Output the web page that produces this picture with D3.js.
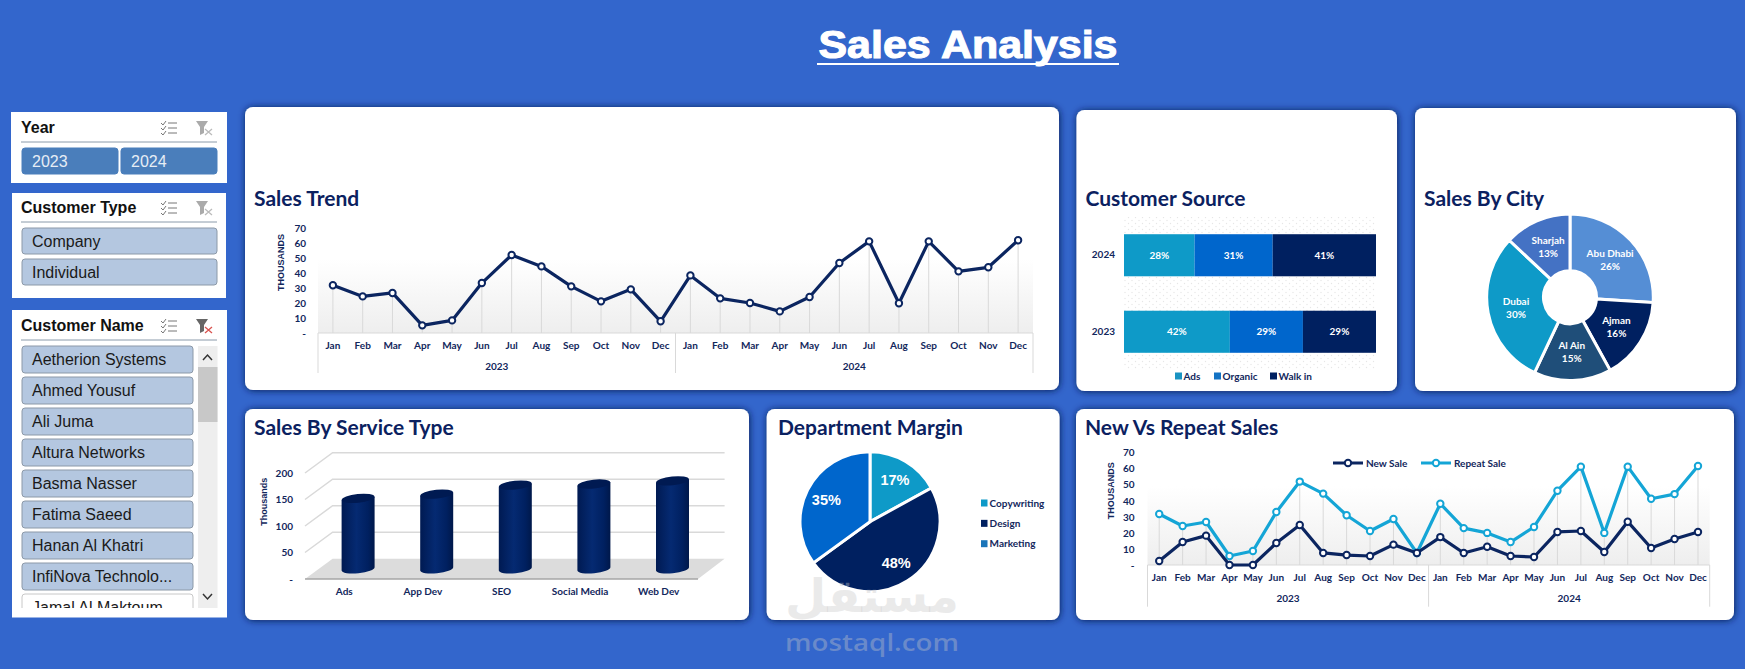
<!DOCTYPE html>
<html>
<head>
<meta charset="utf-8">
<script src="https://cdn.jsdelivr.net/npm/d3@7"></script>
<style>
  html, body { margin: 0; padding: 0; background: #3366cc; overflow: hidden; }
  svg { display: block; }
  text { font-family: Lato, sans-serif; }
  .slicer text { font-family: "Liberation Sans", Arial, sans-serif; }
  .axis path, .axis line { display: none; }
  .axis text { font-family: Lato, sans-serif; font-weight: 700; font-size: 10px; fill: #12275c; }
  .card-title { font-weight: 700; font-size: 21px; fill: #0b2160; }
  .unit-label { font-family: "Liberation Sans", Arial, sans-serif; font-weight: 700; font-size: 9px; fill: #12275c; }
  .legend-text { font-weight: 700; font-size: 10px; fill: #12275c; }
</style>
</head>
<body>
<svg id="dash" width="1745" height="669"></svg>
<script>
// Data
const years = ['2023', '2024'];
const months = ['Jan', 'Feb', 'Mar', 'Apr', 'May', 'Jun', 'Jul', 'Aug', 'Sep', 'Oct', 'Nov', 'Dec'];
const totalSales = [31.8, 24.4, 26.7, 5.1, 8.4, 33.3, 52, 44.4, 31.1, 21.1, 29.1, 7.8,
                    38.4, 23.1, 20, 14.4, 24, 46.7, 61.1, 19.8, 61.1, 41.1, 43.8, 61.8];
const newSales = [2.5, 14.3, 18.3, 0, 0, 13.7, 24.9, 7.5, 6.2, 5.6, 12.7, 7.5,
                  17.4, 7.5, 11.4, 5.6, 5, 20.6, 21.2, 8.1, 27, 10.6, 16.2, 20.6];
const repeatSales = [31.8, 24.3, 26.8, 5.6, 8.7, 33, 52, 44.5, 31, 21.2, 28.7, 7.5,
                     38.2, 23, 20, 14.3, 23.7, 46.3, 61.3, 20, 61.3, 41.3, 44.2, 61.7];
const trendTicks = [0, 10, 20, 30, 40, 50, 60, 70];

const sourceYears = ['2024', '2023'];
const sourceNames = ['Ads', 'Organic', 'Walk in'];
const sourceColors = ['#0e9ac8', '#0066cc', '#002060'];
const source2024 = [28, 31, 41];
const source2023 = [42, 29, 29];

const cityNames = ['Abu Dhabi', 'Ajman', 'Al Ain', 'Dubai', 'Sharjah'];
const cityShares = [26, 16, 15, 30, 13];
const cityColors = ['#558ed5', '#002060', '#1f4e79', '#0e9ac8', '#4472c4'];

const serviceNames = ['Ads', 'App Dev', 'SEO', 'Social Media', 'Web Dev'];
const serviceSales = [133, 141, 158, 160, 166];
const serviceTicks = [0, 50, 100, 150, 200];

const deptNames = ['Copywriting', 'Design', 'Marketing'];
const deptShares = [17, 48, 35];
const deptColors = ['#0e9ac8', '#002060', '#0066cc'];
const deptLegendColors = ['#0e9ac8', '#002060', '#1a75b8'];

const customerTypes = ['Company', 'Individual'];
const customerNames = ['Aetherion Systems', 'Ahmed Yousuf', 'Ali Juma', 'Altura Networks', 'Basma Nasser',
                       'Fatima Saeed', 'Hanan Al Khatri', 'InfiNova Technolo...', 'Jamal Al Maktoum'];

const NAVY = '#0b2560';
const CYAN = '#14a5d6';

const svg = d3.select('#dash');
const defs = svg.append('defs');

// card shadow
const shadow = defs.append('filter').attr('id', 'cardShadow')
  .attr('x', '-5%').attr('y', '-5%').attr('width', '110%').attr('height', '110%');
shadow.append('feDropShadow').attr('dx', 0.5).attr('dy', 0.5).attr('stdDeviation', 3.5)
  .attr('flood-color', '#0c1f52').attr('flood-opacity', 1);

// grey fade behind the line charts
const fade = defs.append('linearGradient').attr('id', 'plotFade')
  .attr('x1', 0).attr('y1', 0).attr('x2', 0).attr('y2', 1);
fade.append('stop').attr('offset', '30%').attr('stop-color', '#ffffff');
fade.append('stop').attr('offset', '100%').attr('stop-color', '#eeeeee');

// cylinder shading
const cyl = defs.append('linearGradient').attr('id', 'cylFill');
cyl.append('stop').attr('offset', '0%').attr('stop-color', '#001a52');
cyl.append('stop').attr('offset', '45%').attr('stop-color', '#052a72');
cyl.append('stop').attr('offset', '80%').attr('stop-color', '#002060');
cyl.append('stop').attr('offset', '100%').attr('stop-color', '#00184a');

// dotted plot background of the stacked bars
const dots = defs.append('pattern').attr('id', 'dotFill').attr('patternUnits', 'userSpaceOnUse')
  .attr('width', 7).attr('height', 6);
dots.append('circle').attr('cx', 1.5).attr('cy', 1.5).attr('r', 0.7).attr('fill', '#e6e6e6');
dots.append('circle').attr('cx', 5).attr('cy', 4.5).attr('r', 0.7).attr('fill', '#e6e6e6');

// Page title
svg.append('text').attr('x', 968).attr('y', 58).attr('text-anchor', 'middle')
  .style('font-family', '"Liberation Sans", Arial, sans-serif').style('font-weight', 700).style('font-size', '39px')
  .attr('fill', '#fff').attr('stroke', '#fff').attr('stroke-width', 1.1)
  .attr('textLength', 299).attr('lengthAdjust', 'spacingAndGlyphs')
  .text('Sales Analysis');
svg.append('rect').attr('x', 817).attr('y', 63).attr('width', 302).attr('height', 2).attr('fill', '#fff');

// Cards
function card(x0, y0, x1, y1, title, titleY) {
  const g = svg.append('g');
  g.append('rect').attr('x', x0).attr('y', y0).attr('width', x1 - x0).attr('height', y1 - y0)
    .attr('rx', 8).attr('fill', '#fff').attr('filter', 'url(#cardShadow)');
  g.append('text').attr('class', 'card-title').attr('x', x0 + 9).attr('y', titleY).text(title);
  return g;
}

// Shared line chart with the two level month / year axis
function lineChart(g, box, series, unitX, tickRight) {
  const keys = [];
  years.forEach(y => months.forEach(m => keys.push(y + '|' + m)));
  const x = d3.scaleBand().domain(keys).range([box.left, box.right]);
  const y = d3.scaleLinear().domain([0, 70]).range([box.bottom, box.top]);

  g.append('rect').attr('x', box.left).attr('y', box.top).attr('width', box.right - box.left)
    .attr('height', box.bottom - box.top).attr('fill', 'url(#plotFade)');

  // drop lines from the highest series
  const tallest = keys.map((k, i) => d3.max(series, s => s.values[i]));
  g.append('g').selectAll('line').data(keys).enter().append('line')
    .attr('x1', k => x(k) + x.bandwidth() / 2).attr('x2', k => x(k) + x.bandwidth() / 2)
    .attr('y1', (k, i) => y(tallest[i])).attr('y2', box.bottom)
    .attr('stroke', '#d9d9d9').attr('stroke-width', 1);

  // axis frame
  g.append('line').attr('x1', box.left).attr('x2', box.right).attr('y1', box.bottom).attr('y2', box.bottom)
    .attr('stroke', '#d9d9d9').attr('stroke-width', 1);
  const yearX = d3.scaleBand().domain(years).range([box.left, box.right]);
  const splits = [box.left, yearX(years[1]), box.right];
  g.append('g').selectAll('line').data(splits).enter().append('line')
    .attr('x1', d => d).attr('x2', d => d).attr('y1', box.bottom).attr('y2', box.axisEnd)
    .attr('stroke', '#d9d9d9').attr('stroke-width', 1);

  g.append('g').attr('class', 'axis').attr('transform', `translate(0,${box.bottom + 14 - 1})`)
    .call(d3.axisBottom(x).tickSize(0).tickPadding(0).tickFormat(k => k.split('|')[1]))
    .selectAll('text').attr('dy', '.32em').attr('y', 0);
  g.append('g').attr('class', 'axis').attr('transform', `translate(0,${box.bottom + box.yearGap})`)
    .call(d3.axisBottom(yearX).tickSize(0).tickPadding(0))
    .selectAll('text').attr('dy', '.32em').attr('y', 0);
  g.append('g').attr('class', 'axis').attr('transform', `translate(${tickRight},0)`)
    .call(d3.axisLeft(y).tickValues(trendTicks).tickSize(0).tickPadding(0)
      .tickFormat(d => d === 0 ? '-' : d));

  const line = d3.line().x((d, i) => x(keys[i]) + x.bandwidth() / 2).y(d => y(d));
  series.forEach(s => {
    g.append('path').datum(s.values).attr('d', line).attr('fill', 'none')
      .attr('stroke', s.color).attr('stroke-width', 3.2).attr('stroke-linejoin', 'round');
    g.append('g').selectAll('circle').data(s.values).enter().append('circle')
      .attr('cx', (d, i) => x(keys[i]) + x.bandwidth() / 2).attr('cy', d => y(d))
      .attr('r', 3.2).attr('fill', '#fff').attr('stroke', s.color).attr('stroke-width', 2);
  });

  g.append('text').attr('class', 'unit-label').attr('text-anchor', 'middle')
    .attr('transform', `translate(${unitX},${(box.top + box.bottom) / 2 - 18}) rotate(-90)`)
    .text('THOUSANDS');
}

// Sales Trend
const trendCard = card(245, 107, 1059, 390, 'Sales Trend', 205.5);
lineChart(trendCard, { left: 318, right: 1033, top: 228, bottom: 333, axisEnd: 373, yearGap: 34 },
  [{ values: totalSales, color: NAVY }], 284, 306);

// Customer Source
const sourceCard = card(1076.5, 110, 1397, 391, 'Customer Source', 205.5);
const sourceX = d3.scaleLinear().domain([0, 100]).range([1124, 1376]);
const sourceY = d3.scaleBand().domain(sourceYears).range([217, 370]).paddingInner(0.45).paddingOuter(0.225);
sourceCard.append('rect').attr('x', sourceX(0)).attr('y', 217).attr('width', sourceX(100) - sourceX(0))
  .attr('height', 153).attr('fill', 'url(#dotFill)');
[source2024, source2023].forEach((row, r) => {
  let sum = 0;
  row.forEach((v, i) => {
    const start = sum;
    sum += v;
    sourceCard.append('rect').attr('x', sourceX(start)).attr('y', sourceY(sourceYears[r]))
      .attr('width', sourceX(sum) - sourceX(start)).attr('height', sourceY.bandwidth())
      .attr('fill', sourceColors[i]);
    sourceCard.append('text').attr('x', sourceX(start + v / 2)).attr('y', sourceY(sourceYears[r]) + sourceY.bandwidth() / 2)
      .attr('dy', '.35em').attr('text-anchor', 'middle').attr('fill', '#fff')
      .style('font-weight', 700).style('font-size', '10px').text(v + '%');
  });
});
sourceCard.append('g').attr('class', 'axis').attr('transform', 'translate(1115,0)')
  .call(d3.axisLeft(sourceY).tickSize(0).tickPadding(0));
const sourceLegendX = [1175, 1214, 1270];
sourceNames.forEach((name, i) => {
  sourceCard.append('rect').attr('x', sourceLegendX[i]).attr('y', 372.5).attr('width', 7).attr('height', 7)
    .attr('fill', i === 0 ? '#1a93c2' : i === 1 ? '#1373c4' : sourceColors[i]);
  sourceCard.append('text').attr('class', 'legend-text').attr('x', sourceLegendX[i] + 8.5).attr('y', 376).attr('dy', '.35em').text(name);
});

// Pie helper, slices start at twelve o'clock and run clockwise
function pieChart(g, cx, cy, inner, outer, labelRadius, shares, colors) {
  const arcs = d3.pie().sort(null)(shares);
  const arc = d3.arc().innerRadius(inner).outerRadius(outer);
  const labelArc = d3.arc().innerRadius(labelRadius).outerRadius(labelRadius);
  const layer = g.append('g').attr('transform', `translate(${cx},${cy})`);
  layer.selectAll('path').data(arcs).enter().append('path')
    .attr('d', arc).attr('fill', (d, i) => colors[i]).attr('stroke', '#fff').attr('stroke-width', 3);
  return { layer, arcs, labelArc };
}

// Sales By City
const cityCard = card(1415, 108, 1736, 391, 'Sales By City', 205.5);
const city = pieChart(cityCard, 1570, 297.3, 26.5, 83.3, 55, cityShares, cityColors);
city.arcs.forEach((d, i) => {
  const c = city.labelArc.centroid(d);
  const t = city.layer.append('text').attr('text-anchor', 'middle').attr('fill', '#fff')
    .style('font-weight', 700).style('font-size', '10px');
  t.append('tspan').attr('x', c[0]).attr('y', c[1] - 3).text(cityNames[i]);
  t.append('tspan').attr('x', c[0]).attr('y', c[1] + 10).text(cityShares[i] + '%');
});

// Sales By Service Type, a fake 3D cylinder chart
const serviceCard = card(245, 409, 749, 620, 'Sales By Service Type', 435);
const frontLeft = 305, frontRight = 698, depthX = 27.6, depthY = 20.3;
const serviceX = d3.scaleBand().domain(serviceNames).range([frontLeft, frontRight]);
const serviceY = d3.scaleLinear().domain([0, 200]).range([579, 473]);
serviceCard.append('path')
  .attr('d', `M${frontLeft},${serviceY(0)}L${frontRight},${serviceY(0)}L${frontRight + depthX - 1},${serviceY(0) - depthY}L${frontLeft + depthX},${serviceY(0) - depthY}Z`)
  .attr('fill', '#dcdcdc');
serviceCard.append('line').attr('x1', frontLeft).attr('x2', frontRight).attr('y1', serviceY(0)).attr('y2', serviceY(0))
  .attr('stroke', '#a6a6a6').attr('stroke-width', 1.5);
serviceCard.append('g').selectAll('path').data(serviceTicks.slice(1)).enter().append('path')
  .attr('d', d => `M${frontLeft},${serviceY(d)}L${frontLeft + depthX},${serviceY(d) - depthY}L${frontRight + depthX - 1},${serviceY(d) - depthY}`)
  .attr('fill', 'none').attr('stroke', '#d9d9d9').attr('stroke-width', 1.5);
serviceCard.append('g').attr('class', 'axis').attr('transform', 'translate(293,0)')
  .call(d3.axisLeft(serviceY).tickValues(serviceTicks).tickSize(0).tickPadding(0).tickFormat(d => d === 0 ? '-' : d));
serviceCard.append('g').attr('class', 'axis').attr('transform', 'translate(0,591.7)')
  .call(d3.axisBottom(serviceX).tickSize(0).tickPadding(0))
  .selectAll('text').attr('dy', '.32em').attr('y', 0);
serviceCard.append('text').attr('class', 'unit-label').attr('text-anchor', 'middle')
  .attr('transform', 'translate(267,501.7) rotate(-90)').text('Thousands');

const cylRx = 16.5, cylRy = 4.4, cylTilt = 1.7;
serviceNames.forEach((name, i) => {
  const cx = serviceX(name) + serviceX.bandwidth() / 2 + depthX / 2;
  const yb = serviceY(0) - depthY / 2;
  const yt = yb - (serviceY(0) - serviceY(serviceSales[i]));
  serviceCard.append('path')
    .attr('d', `M${cx - cylRx},${yb + cylTilt}L${cx - cylRx},${yt + cylTilt}L${cx + cylRx},${yt - cylTilt}L${cx + cylRx},${yb - cylTilt}A${cylRx},${cylRy} -6 0 1 ${cx - cylRx},${yb + cylTilt}Z`)
    .attr('fill', 'url(#cylFill)');
  serviceCard.append('ellipse').attr('cx', cx).attr('cy', yt).attr('rx', cylRx).attr('ry', cylRy)
    .attr('transform', `rotate(-6 ${cx} ${yt})`).attr('fill', '#001a52');
});

// Department Margin
const deptCard = card(766.7, 409, 1059.5, 620, 'Department Margin', 435);
deptCard.select('.card-title').attr('x', 778);
const dept = pieChart(deptCard, 870, 521.7, 0, 70, 49, deptShares, deptColors);
dept.arcs.forEach((d, i) => {
  const c = dept.labelArc.centroid(d);
  dept.layer.append('text').attr('x', c[0]).attr('y', c[1]).attr('dy', '.35em').attr('text-anchor', 'middle')
    .attr('fill', '#fff').style('font-family', '"Liberation Sans", Arial, sans-serif')
    .style('font-weight', 700).style('font-size', '14.5px').text(deptShares[i] + '%');
});
const deptLegendY = d3.scalePoint().domain(deptNames).range([503, 543.7]);
deptNames.forEach((name, i) => {
  deptCard.append('rect').attr('x', 981).attr('y', deptLegendY(name) - 3.5).attr('width', 6.5).attr('height', 7)
    .attr('fill', deptLegendColors[i]);
  deptCard.append('text').attr('class', 'legend-text').attr('x', 989.6).attr('y', deptLegendY(name)).attr('dy', '.35em').text(name);
});

// New Vs Repeat Sales
const mixCard = card(1076, 409, 1734, 620, 'New Vs Repeat Sales', 435);
lineChart(mixCard, { left: 1147.5, right: 1709.7, top: 452.7, bottom: 565, axisEnd: 606.7, yearGap: 33.7 },
  [{ values: repeatSales, color: CYAN }, { values: newSales, color: NAVY }], 1114, 1134.6);
const mixLegend = [
  { name: 'New Sale', color: NAVY, x0: 1333, x1: 1363, tx: 1366 },
  { name: 'Repeat Sale', color: CYAN, x0: 1421, x1: 1451, tx: 1454 }
];
mixLegend.forEach(l => {
  mixCard.append('line').attr('x1', l.x0).attr('x2', l.x1).attr('y1', 463).attr('y2', 463)
    .attr('stroke', l.color).attr('stroke-width', 3);
  mixCard.append('circle').attr('cx', (l.x0 + l.x1) / 2).attr('cy', 463).attr('r', 3.2)
    .attr('fill', '#fff').attr('stroke', l.color).attr('stroke-width', 2);
  mixCard.append('text').attr('class', 'legend-text').attr('x', l.tx).attr('y', 463).attr('dy', '.35em').text(l.name);
});

// Slicers
function slicerIcons(g, multiX, clearX, y, clearRed) {
  const m = g.append('g').attr('transform', `translate(${multiX},${y})`)
    .attr('fill', 'none').attr('stroke', '#777').attr('stroke-width', 1);
  [-5, 0, 5].forEach(d => {
    m.append('path').attr('d', `M-8,${d}l2,2l3,-4`);
    m.append('line').attr('x1', -1).attr('x2', 8).attr('y1', d).attr('y2', d);
  });
  const c = g.append('g').attr('transform', `translate(${clearX},${y})`);
  c.append('path').attr('d', 'M-9,-7H3L-1,-1V5L-5,7V-1Z').attr('fill', clearRed ? '#666' : '#aaa');
  c.append('path').attr('d', 'M0,1L7,7M7,1L0,7').attr('stroke', clearRed ? '#d9534f' : '#bbb').attr('stroke-width', 1.3);
}

function slicerPanel(x0, y0, x1, y1, title, baseY, ruleY, clearRed) {
  const g = svg.append('g').attr('class', 'slicer');
  g.append('rect').attr('x', x0).attr('y', y0).attr('width', x1 - x0).attr('height', y1 - y0).attr('fill', '#fff');
  g.append('text').attr('x', 21).attr('y', baseY).attr('fill', '#111')
    .style('font-weight', 700).style('font-size', '16px').text(title);
  g.append('line').attr('x1', 21).attr('x2', 217).attr('y1', ruleY).attr('y2', ruleY)
    .attr('stroke', '#8a9aaa').attr('stroke-width', 1);
  slicerIcons(g, 169, 205, baseY - 5, clearRed);
  return g;
}

function slicerButton(g, x, y, w, label, opts) {
  g.append('rect').attr('x', x).attr('y', y).attr('width', w).attr('height', opts.h).attr('rx', 3)
    .attr('fill', opts.fill).attr('stroke', opts.stroke).attr('stroke-width', 1);
  g.append('text').attr('x', x + 10).attr('y', y + opts.h / 2).attr('dy', '.35em')
    .attr('fill', opts.color).style('font-size', '16px').text(label);
}

const yearPanel = slicerPanel(11, 112, 227, 183, 'Year', 133, 142, false);
const yearBtnX = d3.scaleBand().domain(years).range([22, 217]).paddingInner(0.03);
years.forEach(y => slicerButton(yearPanel, yearBtnX(y), 148, yearBtnX.bandwidth(), y,
  { h: 26, fill: '#4a7ebb', stroke: '#4a7ebb', color: '#e6edf5' }));

const typePanel = slicerPanel(12, 193, 226, 298, 'Customer Type', 213, 222, false);
customerTypes.forEach((t, i) => slicerButton(typePanel, 22, 228 + i * 31, 195, t,
  { h: 26, fill: '#b4c7e0', stroke: '#8c99a8', color: '#1a1a1a' }));

const namePanel = slicerPanel(12, 310, 227, 617.5, 'Customer Name', 331, 340, true);
defs.append('clipPath').attr('id', 'nameClip').append('rect').attr('x', 12).attr('y', 345).attr('width', 215).attr('height', 263);
const nameList = namePanel.append('g').attr('clip-path', 'url(#nameClip)');
customerNames.forEach((n, i) => slicerButton(nameList, 22, 346 + i * 31, 171, n,
  i < 8 ? { h: 27, fill: '#b4c7e0', stroke: '#8c99a8', color: '#1a1a1a' }
        : { h: 27, fill: '#ffffff', stroke: '#c8c8c8', color: '#1a1a1a' }));
namePanel.append('rect').attr('x', 198).attr('y', 346).attr('width', 19.5).attr('height', 262).attr('fill', '#eeeeee');
namePanel.append('rect').attr('x', 198).attr('y', 367).attr('width', 19.5).attr('height', 55).attr('fill', '#c8c8c8');
namePanel.append('path').attr('d', 'M203,360l4.5,-5l4.5,5').attr('fill', 'none').attr('stroke', '#333').attr('stroke-width', 1.5);
namePanel.append('path').attr('d', 'M203,594l4.5,5l4.5,-5').attr('fill', 'none').attr('stroke', '#333').attr('stroke-width', 1.5);

// Watermark
const mark = svg.append('g').attr('fill', '#c8c8c8').attr('fill-opacity', 0.38).attr('text-anchor', 'middle');
mark.append('text').attr('x', 872).attr('y', 612).attr('textLength', 174).attr('lengthAdjust', 'spacingAndGlyphs')
  .style('font-family', '"DejaVu Sans", sans-serif').style('font-weight', 700).style('font-size', '46px').text('مستقل');
mark.append('text').attr('x', 872).attr('y', 651).attr('textLength', 174).attr('lengthAdjust', 'spacingAndGlyphs')
  .style('font-family', '"Open Sans", sans-serif').style('font-weight', 600).style('font-size', '24px').text('mostaql.com');
</script>
</body>
</html>
